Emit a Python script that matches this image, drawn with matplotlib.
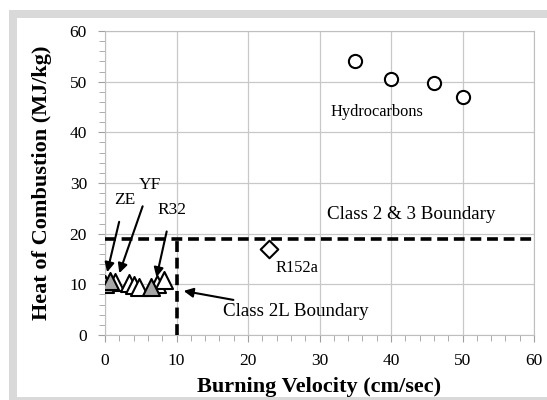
import matplotlib.pyplot as plt
from matplotlib.patches import Rectangle
from matplotlib.ticker import MultipleLocator

plt.rcParams['font.family'] = ['Liberation Serif', 'DejaVu Serif']

# hydrocarbons
hc_x = [35, 40, 46, 50]
hc_y = [54, 50.5, 49.8, 47]
# R152a
r152_x = [23]
r152_y = [17]
# low-GWP candidates (grey / white triangles)
tri_grey_x = [0.0, 0.7, 6.5]
tri_grey_y = [10.1, 10.6, 9.4]
tri_white_x = [1.4, 3.3, 4.1, 4.8, 7.3, 8.3]
tri_white_y = [10.4, 10.3, 9.9, 9.5, 10.1, 10.8]

class23_y = 19
class2l_x = 10

fig = plt.figure(figsize=(5.47, 4), dpi=100)
# grey frame like the original screenshot
fig.patches.append(Rectangle((9/547, 0), 1, 390/400, transform=fig.transFigure,
                             facecolor='#d9d9d9', edgecolor='none', zorder=-2))
fig.patches.append(Rectangle((17/547, 3/400), 1, 379/400, transform=fig.transFigure,
                             facecolor='white', edgecolor='none', zorder=-1))

ax = fig.add_axes([105/547, 65/400, 429/547, 304/400])
ax.set_xlim(0, 60)
ax.set_ylim(0, 60)
ax.xaxis.set_major_locator(MultipleLocator(10))
ax.xaxis.set_minor_locator(MultipleLocator(2))
ax.yaxis.set_major_locator(MultipleLocator(10))
ax.yaxis.set_minor_locator(MultipleLocator(2))
ax.grid(True, which='major', color='#c8c8c8', lw=0.9)
ax.set_axisbelow(True)
for s in ax.spines.values():
    s.set_color('#bfbfbf')
ax.tick_params(which='both', direction='out', color='#a0a0a0', labelsize=12.5, pad=8)
ax.tick_params(which='major', length=5)
ax.tick_params(which='minor', length=4)

# boundaries
ax.plot([0, 60], [class23_y, class23_y], ls=(0, (3, 1.6)), color='black', lw=2.6, zorder=3)
ax.plot([class2l_x, class2l_x], [0, class23_y], ls=(0, (3, 1.6)), color='black', lw=2.6, zorder=3)

ax.scatter(hc_x, hc_y, s=90, marker='o', facecolor='white', edgecolor='black', lw=1.5, zorder=4)
ax.scatter(r152_x, r152_y, s=80, marker='D', facecolor='white', edgecolor='black', lw=1.5, zorder=4)
ax.scatter(tri_white_x, tri_white_y, s=150, marker='^', facecolor='white', edgecolor='black', lw=1.5, zorder=4)
ax.scatter(tri_grey_x, tri_grey_y, s=150, marker='^', facecolor='#a6a6a6', edgecolor='black', lw=1.5, zorder=5)

ax.text(38, 44, 'Hydrocarbons', fontsize=11.8, ha='center', va='center')
ax.text(26.8, 13.2, 'R152a', fontsize=11.8, ha='center', va='center')
ax.text(42.8, 23.7, 'Class 2 & 3 Boundary', fontsize=13.7, ha='center', va='center')

arrow = dict(arrowstyle='-|>', color='black', lw=1.5, mutation_scale=14, shrinkA=0, shrinkB=0)
ax.annotate('Class 2L Boundary', xy=(11, 8.7), xytext=(16.5, 4.7), fontsize=13.7,
            ha='left', va='center', arrowprops=arrow)
ax.annotate('ZE', xy=(0.3, 12.4), xytext=(2.7, 26.6), fontsize=12.5,
            ha='center', va='center', arrowprops=dict(arrow, shrinkA=8))
ax.annotate('YF', xy=(2.0, 12.2), xytext=(6.3, 29.6), fontsize=12.5,
            ha='center', va='center', arrowprops=dict(arrow, shrinkA=8))
ax.annotate('R32', xy=(7.2, 11.4), xytext=(9.3, 24.7), fontsize=12.5,
            ha='center', va='center', arrowprops=dict(arrow, shrinkA=8))

ax.set_xlabel('Burning Velocity (cm/sec)', fontsize=16, fontweight='bold', labelpad=6)
ax.set_ylabel('Heat of Combustion (MJ/kg)', fontsize=16, fontweight='bold', labelpad=13)

fig.savefig('out.png', dpi=100)
